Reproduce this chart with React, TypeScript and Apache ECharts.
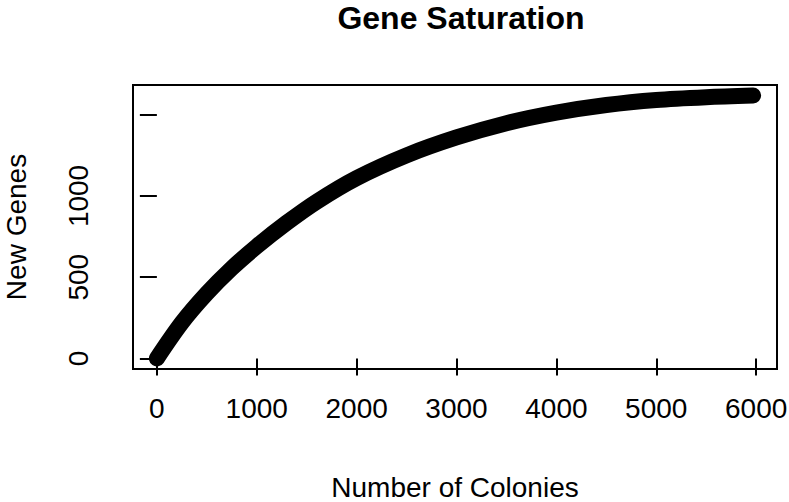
import React, { useEffect, useRef } from "react";
import * as echarts from "echarts";

const colonies = [0, 250, 500, 750, 1000, 1300, 1600, 2000, 2500, 3000, 3500, 4000, 4500, 5000, 5500, 5970];
const newGenes = [0, 220, 400, 555, 690, 835, 965, 1110, 1250, 1360, 1448, 1513, 1560, 1591, 1608, 1618];
const xTicks = [0, 1000, 2000, 3000, 4000, 5000, 6000];
const yTicks = [0, 500, 1000, 1500];
const yLabels = [0, 500, 1000];

const FONT = "'Liberation Sans', Arial, Helvetica, sans-serif";

export default function App() {
  const ref = useRef<HTMLDivElement>(null);
  useEffect(() => {
    document.body.style.margin = "0";
    const chart = echarts.init(ref.current!, null, { renderer: "svg" });
    const data = colonies.map((c, i) => [c, newGenes[i]]);
    chart.setOption({
      animation: false,
      backgroundColor: "#fff",
      title: {
        text: "Gene Saturation",
        left: 456,
        top: -3,
        textAlign: "center",
        textStyle: { fontFamily: FONT, fontWeight: "bold", fontSize: 32, color: "#000" },
      },
      grid: {
        left: 133,
        top: 85,
        width: 644,
        height: 284,
        show: true,
        borderColor: "#000",
        borderWidth: 2,
        containLabel: false,
        outerBoundsMode: "none",
      },
      xAxis: {
        type: "value",
        min: -239,
        max: 6209,
        name: "Number of Colonies",
        nameLocation: "middle",
        nameGap: 104,
        nameTextStyle: { fontFamily: FONT, fontSize: 28, color: "#000" },
        axisLine: { show: false },
        axisTick: { show: true, length: 17, lineStyle: { color: "#000", width: 2 }, customValues: xTicks },
        axisLabel: {
          fontFamily: FONT,
          fontSize: 28,
          color: "#000",
          margin: 25,
          customValues: xTicks,
          formatter: (v: number) => String(v),
        },
        splitLine: { show: false },
      },
      yAxis: {
        type: "value",
        min: -65,
        max: 1683,
        name: "New Genes",
        nameLocation: "middle",
        nameRotate: 90,
        nameGap: 103,
        nameTextStyle: { fontFamily: FONT, fontSize: 28, color: "#000" },
        axisLine: { show: false },
        axisTick: { show: true, length: 17, lineStyle: { color: "#000", width: 2 }, customValues: yTicks },
        axisLabel: {
          fontFamily: FONT,
          fontSize: 28,
          color: "#000",
          margin: 41,
          rotate: 90,
          customValues: yLabels,
          formatter: (v: number) => String(v),
        },
        splitLine: { show: false },
      },
      series: [
        {
          type: "line",
          data,
          smooth: 0.3,
          showSymbol: false,
          lineStyle: { color: "#000", width: 16, cap: "round", join: "round" },
        },
      ],
    });
    return () => chart.dispose();
  }, []);
  return <div ref={ref} style={{ width: 789, height: 502 }} />;
}
